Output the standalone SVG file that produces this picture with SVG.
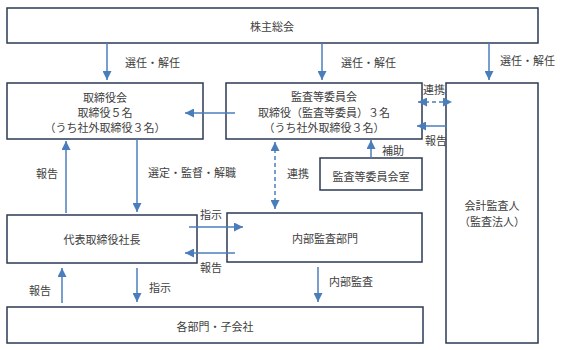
<svg xmlns="http://www.w3.org/2000/svg" width="564" height="350" viewBox="0 0 564 350">
<defs>
<marker id="ah" viewBox="0 0 10 10" refX="10" refY="5" markerWidth="9" markerHeight="9" markerUnits="userSpaceOnUse" orient="auto-start-reverse">
<path d="M0,0 L10,5 L0,10 Z" fill="#4A7EBB"/>
</marker>
<style>
.box{fill:#fff;stroke:#2B3A55;stroke-width:1.5}
.t{font-family:"Noto Sans CJK JP","Noto Sans CJK SC",sans-serif;font-size:11px;fill:#404040;text-anchor:middle;dominant-baseline:central}
.l{text-anchor:start}
.c{stroke:#4A7EBB;stroke-width:1.5;fill:none;marker-end:url(#ah)}
.d{stroke-dasharray:4,3;marker-start:url(#ah)}
</style>
</defs>
<rect width="564" height="350" fill="#fff"/>
<g id="n-shareholders"><rect class="box" x="7" y="8" width="531" height="35"/><text class="t" x="272" y="26">株主総会</text></g>
<g id="n-board"><rect class="box" x="7" y="83" width="196" height="56"/><text class="t" x="105" y="97">取締役会</text><text class="t" x="105" y="112">取締役５名</text><text class="t" x="105" y="127">（うち社外取締役３名）</text></g>
<g id="n-audit"><rect class="box" x="226" y="83" width="196" height="56"/><text class="t" x="324" y="96">監査等委員会</text><text class="t" x="324" y="112">取締役（監査等委員）３名</text><text class="t" x="324" y="127">（うち社外取締役３名）</text></g>
<g id="n-auditor"><rect class="box" x="446" y="83" width="92" height="260"/><text class="t" x="492" y="205">会計監査人</text><text class="t" x="492" y="221">（監査法人）</text></g>
<g id="n-office"><rect class="box" x="320" y="158" width="102" height="32"/><text class="t" x="371" y="176">監査等委員会室</text></g>
<g id="n-ceo"><rect class="box" x="7" y="215" width="190" height="48"/><text class="t" x="102" y="239">代表取締役社長</text></g>
<g id="n-internal"><rect class="box" x="227" y="213" width="195" height="49"/><text class="t" x="325" y="238">内部監査部門</text></g>
<g id="n-depts"><rect class="box" x="7" y="307" width="416" height="36"/><text class="t" x="215" y="326">各部門・子会社</text></g>
<g id="connectors">
<line class="c" x1="107" y1="43" x2="107" y2="80"/>
<line class="c" x1="322" y1="43" x2="322" y2="80"/>
<line class="c" x1="489" y1="43" x2="489" y2="80"/>
<line class="c" x1="235" y1="113" x2="185" y2="113"/>
<line class="c d" x1="418" y1="102" x2="452" y2="102"/>
<line class="c" x1="447" y1="126" x2="417" y2="126"/>
<line class="c" x1="371" y1="158" x2="371" y2="140"/>
<line class="c" x1="66" y1="213" x2="66" y2="141"/>
<line class="c" x1="137" y1="139" x2="137" y2="212"/>
<line class="c d" x1="275" y1="142" x2="275" y2="209"/>
<line class="c" x1="189" y1="227" x2="243" y2="227"/>
<line class="c" x1="235" y1="253" x2="185" y2="253"/>
<line class="c" x1="62" y1="303" x2="62" y2="268"/>
<line class="c" x1="137" y1="268" x2="137" y2="302"/>
<line class="c" x1="318" y1="267" x2="318" y2="302"/>
</g>
<g id="labels">
<text class="t l" x="125" y="62">選任・解任</text>
<text class="t l" x="341" y="62">選任・解任</text>
<text class="t l" x="500" y="60">選任・解任</text>
<text class="t l" x="423" y="89">連携</text>
<text class="t l" x="425" y="140">報告</text>
<text class="t l" x="382" y="150">補助</text>
<text class="t l" x="36" y="173">報告</text>
<text class="t l" x="148" y="172">選定・監督・解職</text>
<text class="t l" x="287" y="173">連携</text>
<text class="t l" x="200" y="214">指示</text>
<text class="t l" x="200" y="267">報告</text>
<text class="t l" x="29" y="290">報告</text>
<text class="t l" x="149" y="287">指示</text>
<text class="t l" x="329" y="281">内部監査</text>
</g>
</svg>
